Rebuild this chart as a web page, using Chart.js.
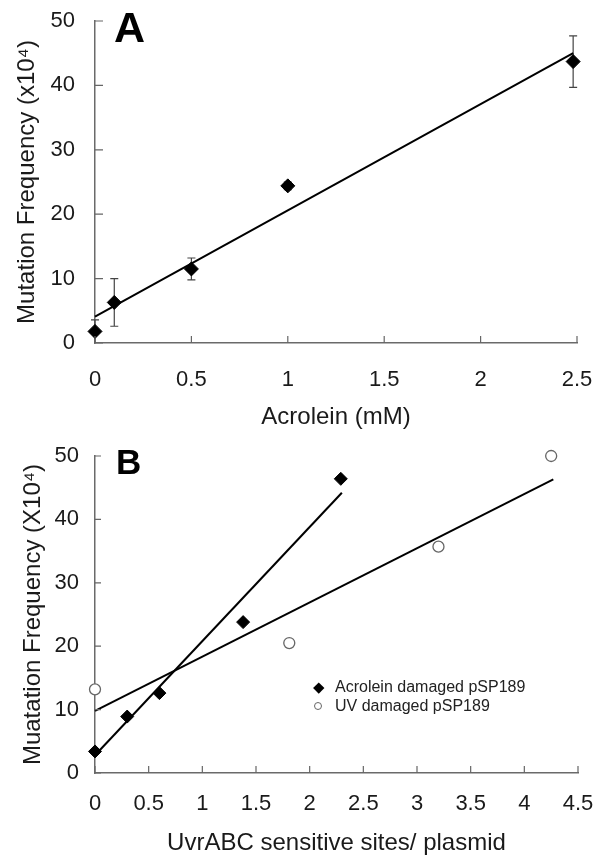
<!DOCTYPE html>
<html>
<head>
<meta charset="utf-8">
<script src="https://cdn.jsdelivr.net/npm/chart.js@4.4.1/dist/chart.umd.min.js"></script>
<style>
  body { margin: 0; background: #fff; }
  #wrap { position: relative; width: 602px; height: 868px; overflow: hidden; font-family: "Liberation Sans", Arial, sans-serif; }
  canvas { position: absolute; left: 0; }
  .panel { position: absolute; font-weight: bold; color: #000; line-height: 1; }
  .leg { position: absolute; left: 335px; font-size: 16px; color: #222; line-height: 1; white-space: nowrap; }
  .dia { position: absolute; width: 7.5px; height: 7.5px; background: #000; transform: rotate(45deg); }
  .cir { position: absolute; width: 8px; height: 8px; border: 1.2px solid #666; border-radius: 50%; background: #fff; box-sizing: border-box; }
</style>
</head>
<body>
<div id="wrap">
  <canvas id="cA" width="602" height="434" style="top:0"></canvas>
  <canvas id="cB" width="602" height="434" style="top:434px"></canvas>
  <div class="panel" style="left:114px;top:6px;font-size:43px;">A</div>
  <div class="panel" style="left:116px;top:444px;font-size:35px;">B</div>
  <div class="dia" style="left:314.5px;top:683.5px;"></div>
  <div class="leg" style="top:679px;">Acrolein damaged pSP189</div>
  <div class="cir" style="left:314px;top:702px;"></div>
  <div class="leg" style="top:698px;">UV damaged pSP189</div>
</div>
<script>
// ---- Panel A data ----
const aDose = [0, 0.1, 0.5, 1, 2.48];
const aFreq = [1.8, 6.3, 11.5, 24.4, 43.7];
const aErr  = [1.8, 3.7, 1.7, 0.6, 4.0];
const aFitX = [0, 2.48];
const aFitY = [4.1, 45.0];
const aXMax = 2.5;
// ---- Panel B data ----
const bAcroX = [0, 0.3, 0.6, 1.38, 2.29];
const bAcroY = [3.4, 8.9, 12.6, 23.8, 46.4];
const bUvX = [0, 1.81, 3.2, 4.25];
const bUvY = [13.2, 20.5, 35.7, 50.0];
const bAcroFitX = [0, 2.3];
const bAcroFitY = [2.8, 44.2];
const bUvFitX = [0, 4.27];
const bUvFitY = [9.8, 46.3];
const bXMax = 4.5;
// ---- axis ----
const yMax = 50, yStep = 10, xStep = 0.5;
const titleA_X = 'Acrolein (mM)';
const titleA_Y = 'Mutation Frequency (x10\u2074)';
const titleB_X = 'UvrABC sensitive sites/ plasmid';
const titleB_Y = 'Muatation Frequency (X10\u2074)';

const FONT = '"Liberation Sans", Arial, sans-serif';
const pts = (xs, ys) => xs.map((x, i) => ({x, y: ys[i]}));

const innerTicks = {
  id: 'innerTicks',
  afterDraw(chart, args, opts) {
    const {ctx, chartArea: a} = chart;
    const x = chart.scales.x, y = chart.scales.y;
    ctx.save();
    ctx.strokeStyle = '#666';
    ctx.lineWidth = 1.2;
    ctx.beginPath();
    x.ticks.forEach(t => {
      const px = x.getPixelForValue(t.value);
      ctx.moveTo(px, a.bottom); ctx.lineTo(px, a.bottom - 7);
    });
    y.ticks.forEach(t => {
      const py = y.getPixelForValue(t.value);
      ctx.moveTo(a.left, py); ctx.lineTo(a.left + opts.yLen, py);
    });
    ctx.stroke();
    ctx.restore();
  }
};

const errorBars = {
  id: 'errorBars',
  beforeDatasetsDraw(chart, args, opts) {
    if (!opts.err) return;
    const {ctx} = chart;
    const x = chart.scales.x, y = chart.scales.y;
    ctx.save();
    ctx.strokeStyle = '#444';
    ctx.lineWidth = 1.2;
    ctx.beginPath();
    opts.xs.forEach((xv, i) => {
      const px = x.getPixelForValue(xv);
      const hi = y.getPixelForValue(opts.ys[i] + opts.err[i]);
      const lo = y.getPixelForValue(Math.max(0, opts.ys[i] - opts.err[i]));
      ctx.moveTo(px, hi); ctx.lineTo(px, lo);
      ctx.moveTo(px - 4, hi); ctx.lineTo(px + 4, hi);
      if (opts.ys[i] - opts.err[i] > 0) { ctx.moveTo(px - 4, lo); ctx.lineTo(px + 4, lo); }
    });
    ctx.stroke();
    ctx.restore();
  }
};

function makeScales(o) {
  return {
    x: {
      type: 'linear', min: 0, max: o.xMax,
      ticks: { stepSize: xStep, color: '#1a1a1a', font: {family: FONT, size: 22}, padding: o.xTickPad, maxRotation: 0, autoSkip: false,
               callback: v => String(v) },
      grid: { display: false, drawTicks: false },
      border: { display: true, color: '#6a6a6a', width: 1.5 },
      title: { display: true, text: o.xTitle, color: '#1a1a1a', font: {family: FONT, size: 24}, padding: {top: 0, bottom: o.xTitlePad} },
      afterFit(s) { s.height = o.xHeight; s.paddingLeft = 0; s.paddingRight = 0; }
    },
    y: {
      type: 'linear', min: 0, max: yMax,
      ticks: { stepSize: yStep, color: '#1a1a1a', font: {family: FONT, size: 22}, padding: o.yTickPad, callback: v => String(v) },
      grid: { display: false, drawTicks: false },
      border: { display: true, color: '#6a6a6a', width: 1.5 },
      title: { display: true, text: o.yTitle, color: '#1a1a1a', font: {family: FONT, size: 24}, padding: {top: o.yTitlePad, bottom: 0} },
      afterFit(s) { s.width = 95; s.paddingTop = 0; s.paddingBottom = 0; }
    }
  };
}

const fitLine = (data) => ({
  type: 'line', data, borderColor: '#000', borderWidth: 2, pointRadius: 0,
  showLine: true, fill: false, order: 2, clip: false, tension: 0
});

new Chart(document.getElementById('cA'), {
  type: 'scatter',
  data: {
    datasets: [
      { data: pts(aDose, aFreq), pointStyle: 'rectRot', pointRadius: 7, backgroundColor: '#000', borderColor: '#000', borderWidth: 1, order: 0, clip: false },
      fitLine(pts(aFitX, aFitY))
    ]
  },
  options: {
    responsive: false, animation: false, devicePixelRatio: 1,
    layout: { padding: { left: 0, right: 25, top: 21, bottom: 0 } },
    plugins: { legend: {display: false}, tooltip: {enabled: false},
      errorBars: { xs: aDose, ys: aFreq, err: aErr }, innerTicks: { yLen: 8 } },
    scales: makeScales({ xMax: aXMax, xTitle: titleA_X, yTitle: titleA_Y, xHeight: 91, xTickPad: 23.8, xTitlePad: 2.6, yTickPad: 20, yTitlePad: 12.6 })
  },
  plugins: [errorBars, innerTicks]
});

new Chart(document.getElementById('cB'), {
  type: 'scatter',
  data: {
    datasets: [
      { data: pts(bAcroX, bAcroY), pointStyle: 'rectRot', pointRadius: 6.5, backgroundColor: '#000', borderColor: '#000', borderWidth: 1, order: 0, clip: false },
      { data: pts(bUvX, bUvY), pointStyle: 'circle', pointRadius: 5.5, backgroundColor: '#fff', borderColor: '#666', borderWidth: 1.3, order: 0, clip: false },
      fitLine(pts(bAcroFitX, bAcroFitY)),
      fitLine(pts(bUvFitX, bUvFitY))
    ]
  },
  options: {
    responsive: false, animation: false, devicePixelRatio: 1,
    layout: { padding: { left: 0, right: 24, top: 22, bottom: 0 } },
    plugins: { legend: {display: false}, tooltip: {enabled: false}, innerTicks: { yLen: 6 } },
    scales: makeScales({ xMax: bXMax, xTitle: titleB_X, yTitle: titleB_Y, xHeight: 95, xTickPad: 17.8, xTitlePad: 10.6, yTickPad: 16, yTitlePad: 18.6 })
  },
  plugins: [errorBars, innerTicks]
});
</script>
</body>
</html>
